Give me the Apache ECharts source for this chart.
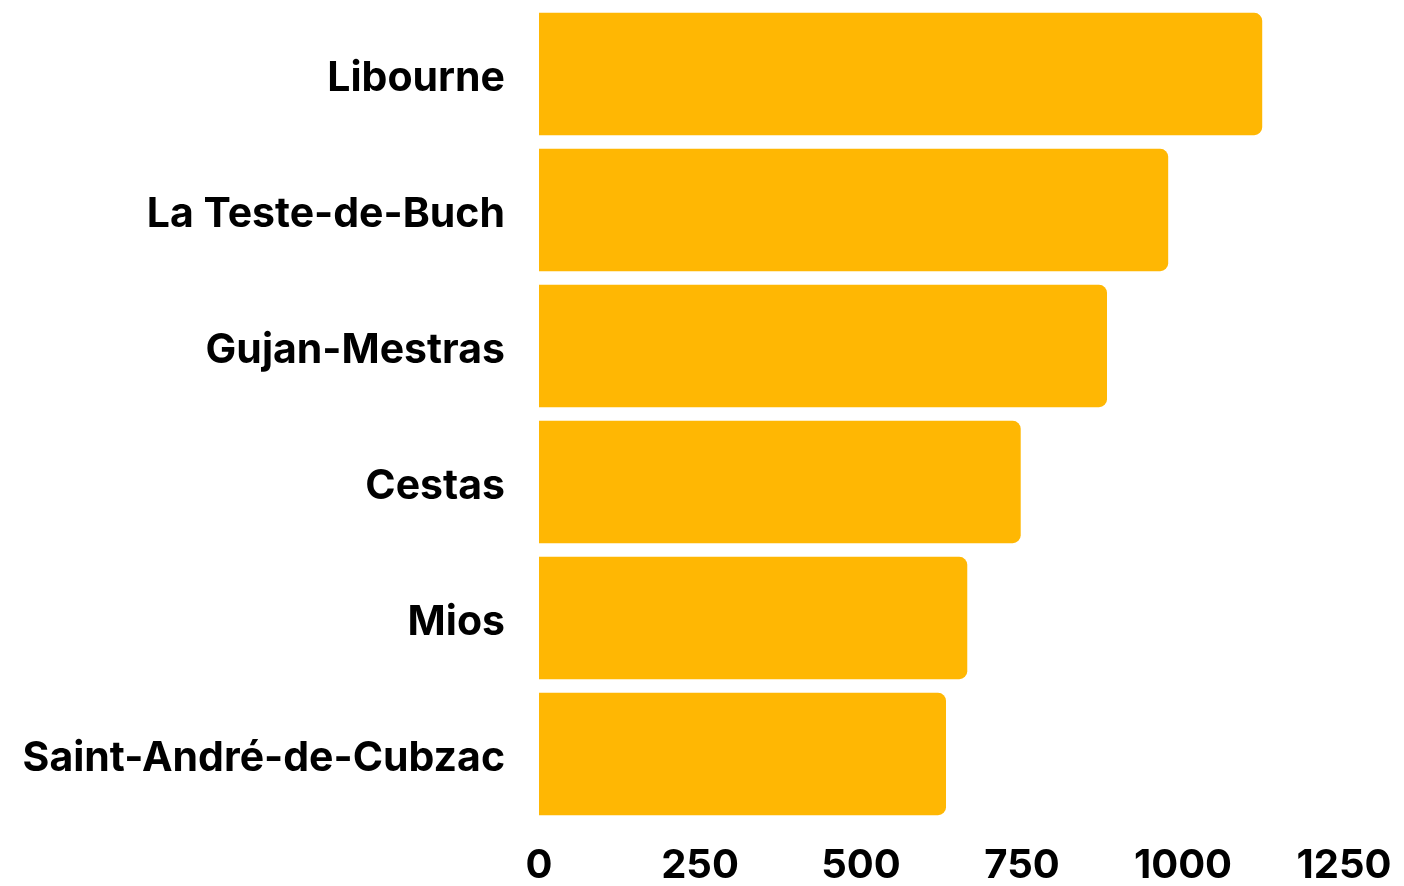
<!DOCTYPE html>
<html>
<head>
<meta charset="utf-8">
<script src="https://cdn.jsdelivr.net/npm/echarts@6/dist/echarts.min.js"></script>
<style>
  html, body { margin: 0; padding: 0; background: #fff; }
  #chart-container { width: 1404px; height: 886px; }
</style>
</head>
<body>
<div id="chart-container"></div>
<script>
var cities = ['Libourne', 'La Teste-de-Buch', 'Gujan-Mestras', 'Cestas', 'Mios', 'Saint-André-de-Cubzac'];
var values = [1123, 977, 882, 748, 665, 632];
var xTicks = [0, 250, 500, 750, 1000, 1250];

var dom = document.getElementById('chart-container');
var myChart = echarts.init(dom, null, { renderer: 'canvas' });

var option = {
    animation: false,
    grid: { left: 539, right: 60, top: 6, bottom: 61 },
    xAxis: {
        type: 'value',
        min: xTicks[0],
        max: xTicks[xTicks.length - 1],
        interval: 250,
        axisLine: { show: false },
        axisTick: { show: false },
        splitLine: { show: false },
        axisLabel: {
            margin: 24,
            color: '#000',
            fontFamily: 'Inter',
            fontWeight: 'bold',
            fontSize: 40,
            formatter: function (v) { return String(v); }
        }
    },
    yAxis: {
        type: 'category',
        data: cities,
        inverse: true,
        axisLine: { show: false },
        axisTick: { show: false },
        axisLabel: {
            margin: 34,
            formatter: function (v) { return '{c|' + v + '}'; },
            rich: {
                c: {
                    color: '#000',
                    fontFamily: 'Inter',
                    fontWeight: 'bold',
                    fontSize: 41,
                    padding: [10, 0, 0, 0]
                }
            }
        }
    },
    series: [{
        type: 'bar',
        data: values,
        barCategoryGap: '10%',
        itemStyle: { color: '#FFB703', borderRadius: [0, 8, 8, 0] }
    }]
};

myChart.setOption(option);
window.addEventListener('resize', myChart.resize);
</script>
</body>
</html>
